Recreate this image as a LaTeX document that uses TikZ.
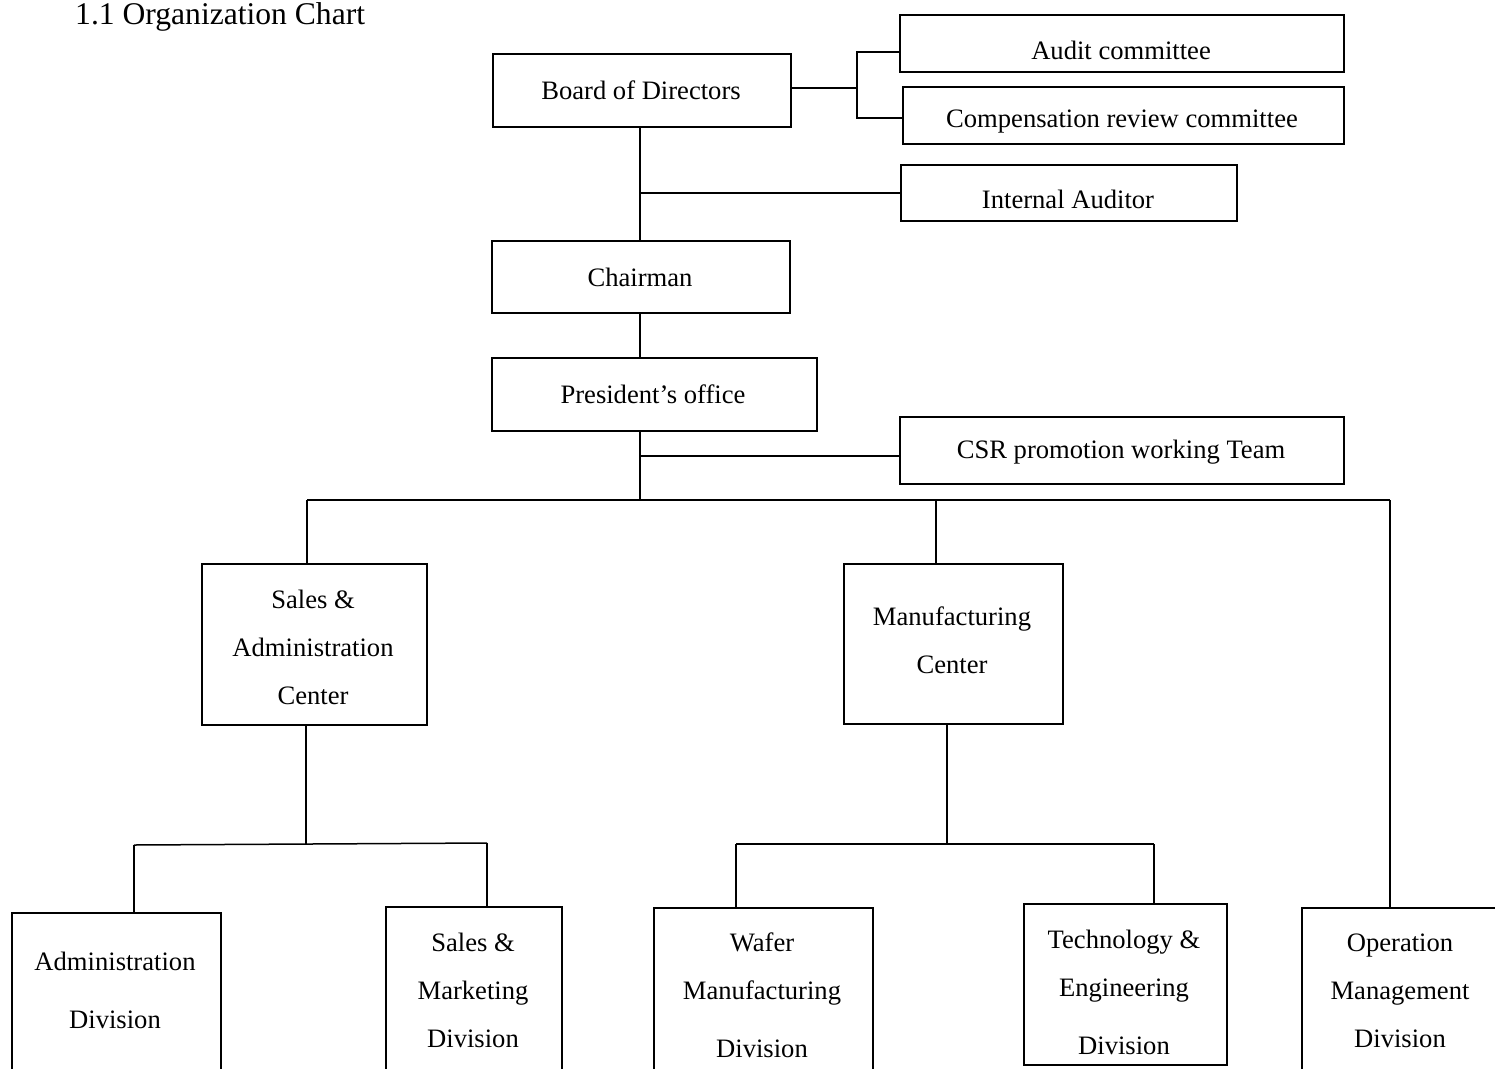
\documentclass[tikz,border=0pt]{standalone}
\usepackage{fontspec}
\setmainfont{Liberation Serif}
\usepackage{tikz}
\usetikzlibrary{calc}
\newcommand{\orgfont}{\fontsize{26.6}{48}\selectfont}
\tikzset{
  unit/.style={draw, line width=1.5pt, inner sep=0pt, anchor=north west},
  txt/.style={font=\orgfont, align=center, inner sep=0pt},
  link/.style={line width=1.5pt},
}

\begin{document}
\begin{tikzpicture}[x=1pt,y=1pt]
      \useasboundingbox (0,0) rectangle (1495,-1068);
      \node[anchor=base west, inner sep=0pt, font=\fontsize{31.6}{36}\selectfont] (title) at (75,-24) {1.1 Organization Chart};
      % boxes
      \node[unit, minimum width=298, minimum height=73] (board) at (492,-53) {};
      \node[unit, minimum width=444, minimum height=57] (audit) at (899,-14) {};
      \node[unit, minimum width=441, minimum height=57] (comp) at (902,-86) {};
      \node[unit, minimum width=336, minimum height=56] (ia) at (900,-164) {};
      \node[unit, minimum width=298, minimum height=72] (chair) at (491,-240) {};
      \node[unit, minimum width=325, minimum height=73] (pres) at (491,-357) {};
      \node[unit, minimum width=444, minimum height=67] (csr) at (899,-416) {};
      \node[unit, minimum width=225, minimum height=161] (sa) at (201,-563) {};
      \node[unit, minimum width=219, minimum height=160] (mfg) at (843,-563) {};
      \node[unit, minimum width=209, minimum height=200] (admin) at (11,-912) {};
      \node[unit, minimum width=176, minimum height=200] (sm) at (385,-906) {};
      \node[unit, minimum width=219, minimum height=200] (wafer) at (653,-907) {};
      \node[unit, minimum width=203, minimum height=161] (tech) at (1023,-903) {};
      \node[unit, minimum width=209, minimum height=200] (op) at (1301,-907) {};
      % texts
      \node[txt] (board-t) at (641,-90) {Board of Directors};
      \node[txt] (audit-t) at (1121,-50) {Audit committee};
      \node[txt] (comp-t) at (1122,-122) {Compensation review committee};
      \node[txt] (ia-t) at (1068,-199) {Internal Auditor};
      \node[txt] (chair-t) at (640,-277) {Chairman};
      \node[txt] (pres-t) at (653,-394) {President’s office};
      \node[txt] (csr-t) at (1121,-452) {CSR promotion working Team};
      \node[txt] (sa-t) at (313,-647) {Sales \&\\Administration\\Center};
      \node[txt] (mfg-t) at (952,-640) {Manufacturing\\Center};
      \node[txt] (admin-t) at (115,-990) {Administration\\[10pt]Division};
      \node[txt] (sm-t) at (473,-990) {Sales \&\\Marketing\\Division};
      \node[txt] (wafer-t) at (762,-995.5) {Wafer\\Manufacturing\\[10pt]Division};
      \node[txt] (tech-t) at (1124,-992) {Technology \&\\Engineering\\[10pt]Division};
      \node[txt] (op-t) at (1400,-991) {Operation\\Management\\Division};
      % forks and buses
      \coordinate (fk-top) at (857,-52);
      \coordinate (fk-mid) at (857,-88);
      \coordinate (fk-bot) at (857,-118);
      \coordinate (trunk) at (640,-500);
      \coordinate (bus-l) at (307,-500);
      \coordinate (bus-m) at (936,-500);
      \coordinate (bus-r) at (1390,-500);
      \coordinate (sub-l) at (306,-844);
      \coordinate (sub-r) at (947,-844);
      % links
      \draw[link] (board.east |- fk-mid) -- (fk-mid);
      \draw[link] (audit.west |- fk-top) -- (fk-top) -- (fk-bot) -- (comp.west |- fk-bot);
      \draw[link] (board.south -| trunk) -- (chair.north -| trunk);
      \draw[link] (ia.west) -- (ia.west -| trunk);
      \draw[link] (chair.south -| trunk) -- (pres.north -| trunk);
      \draw[link] (pres.south -| trunk) -- (trunk);
      \draw[link] (csr.west |- 0,-456) -- (trunk |- 0,-456);
      \draw[link] (bus-l) -- (bus-r);
      \draw[link] (bus-l) -- (bus-l |- sa.north);
      \draw[link] (bus-m) -- (bus-m |- mfg.north);
      \draw[link] (bus-r) -- (bus-r |- op.north);
      \draw[link] (sub-l |- sa.south) -- (sub-l);
      \draw[link] (134,-845) -- (487,-843);
      \draw[link] (134,-845) -- (134,-912 |- admin.north);
      \draw[link] (487,-843) -- (487,-906 |- sm.north);
      \draw[link] (sub-r |- mfg.south) -- (sub-r);
      \draw[link] (736,-844) -- (1154,-844);
      \draw[link] (736,-844) -- (736,-907 |- wafer.north);
      \draw[link] (1154,-844) -- (1154,-903 |- tech.north);
\end{tikzpicture}
\end{document}
